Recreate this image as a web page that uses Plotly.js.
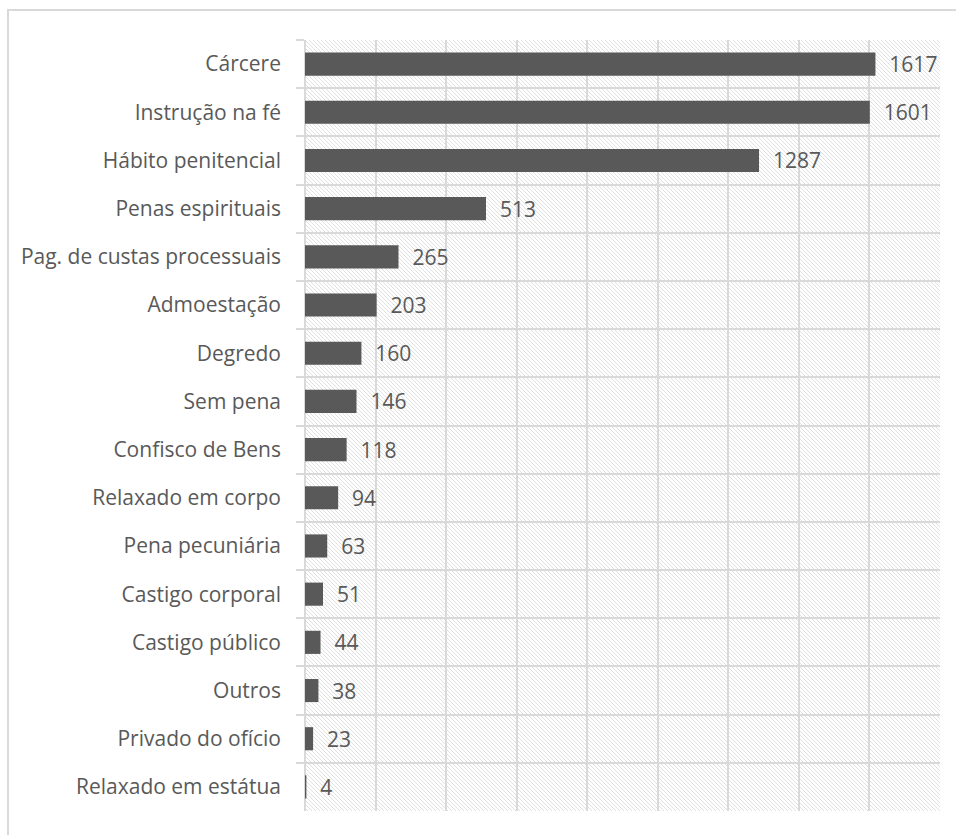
<!DOCTYPE html>
<html>
<head>
<meta charset="utf-8">
<script src="https://cdn.plot.ly/plotly-3.0.1.min.js"></script>
<style>
  html, body { margin: 0; padding: 0; background: #ffffff; }
  #frame { position: absolute; left: 7px; top: 9px; width: 960px; height: 840px;
           border-left: 2px solid #d9d9d9; border-top: 2px solid #d9d9d9; box-sizing: border-box; }
  #chart { position: absolute; left: 0; top: 0; width: 956px; height: 835px; }
</style>
</head>
<body>
<div id="frame"></div>
<div id="chart"></div>
<script>
const categories = [
  "Cárcere", "Instrução na fé", "Hábito penitencial", "Penas espirituais",
  "Pag. de custas processuais", "Admoestação", "Degredo", "Sem pena",
  "Confisco de Bens", "Relaxado em corpo", "Pena pecuniária", "Castigo corporal",
  "Castigo público", "Outros", "Privado do ofício", "Relaxado em estátua"
];
const values = [1617, 1601, 1287, 513, 265, 203, 160, 146, 118, 94, 63, 51, 44, 38, 23, 4];

const W = 635, H = 771;
const hatchSvg =
  '<svg xmlns="http://www.w3.org/2000/svg" width="' + W + '" height="' + H + '">' +
  '<defs><pattern id="p" patternUnits="userSpaceOnUse" width="4" height="4">' +
  '<path d="M-1,-1 L5,5 M-1,3 L1,5 M3,-1 L5,1" stroke="#e0e0e0" stroke-width="1"/>' +
  '</pattern></defs><rect width="100%" height="100%" fill="url(#p)"/></svg>';
const hatchUri = 'data:image/svg+xml;charset=utf-8,' + encodeURIComponent(hatchSvg);

const fontFam = '"Open Sans", Lato, sans-serif';
const grey = '#595959';
const gridC = '#d9d9d9';

const trace = {
  type: 'bar',
  orientation: 'h',
  y: categories,
  x: values,
  text: values.map(v => '\u00a0\u00a0' + v),
  textposition: 'outside',
  constraintext: 'none',
  cliponaxis: false,
  textfont: { family: fontFam, size: 21, color: grey },
  marker: { color: grey, line: { width: 0 } },
  hoverinfo: 'x+y'
};

const layout = {
  width: 956, height: 835,
  margin: { l: 305, r: 16, t: 40, b: 24, pad: 0 },
  paper_bgcolor: 'rgba(0,0,0,0)',
  plot_bgcolor: 'rgba(0,0,0,0)',
  showlegend: false,
  bargap: 0.52,
  font: { family: fontFam, size: 21, color: grey },
  images: [{
    source: hatchUri, xref: 'paper', yref: 'paper', x: 0, y: 1,
    sizex: 1, sizey: 1, sizing: 'stretch', xanchor: 'left', yanchor: 'top', layer: 'below'
  }],
  xaxis: {
    range: [0, 1800], dtick: 200, tick0: 0,
    showticklabels: false, ticks: '',
    showgrid: true, gridcolor: gridC, gridwidth: 2,
    zeroline: true, zerolinecolor: gridC, zerolinewidth: 2,
    showline: false, fixedrange: true
  },
  yaxis: {
    type: 'category',
    autorange: 'reversed',
    tickson: 'boundaries',
    ticks: 'outside', ticklen: 8, tickcolor: gridC, tickwidth: 2,
    showgrid: true, gridcolor: gridC, gridwidth: 2,
    showline: false, zeroline: false,
    ticklabelstandoff: 23,
    tickfont: { family: fontFam, size: 21, color: grey },
    fixedrange: true
  }
};

Plotly.newPlot('chart', [trace], layout, { displayModeBar: false, staticPlot: true });
</script>
</body>
</html>
